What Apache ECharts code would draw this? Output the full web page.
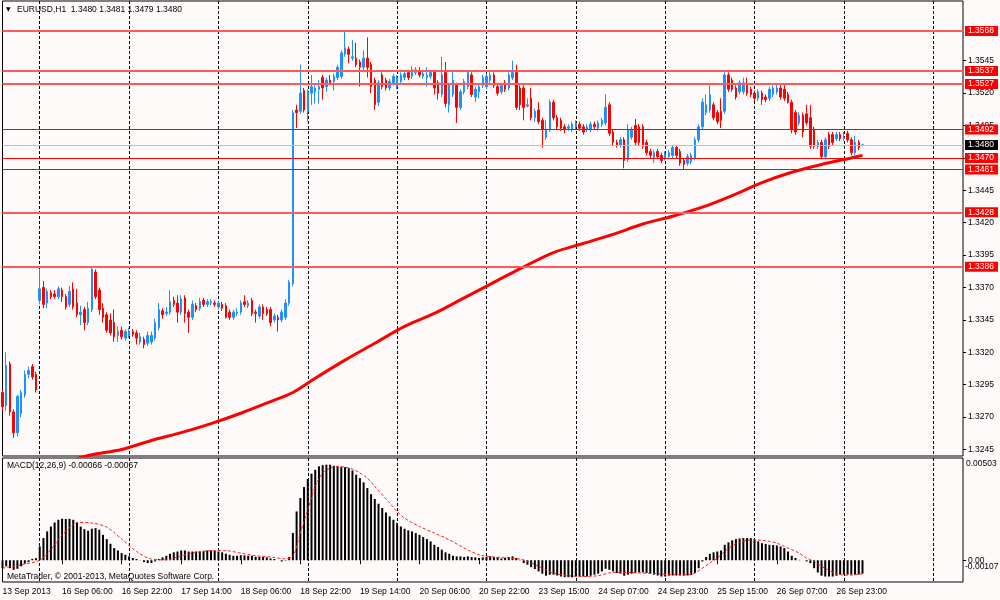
<!DOCTYPE html>
<html><head><meta charset="utf-8">
<script src="https://cdn.jsdelivr.net/npm/echarts@6/dist/echarts.min.js"></script>
<style>html,body{margin:0;padding:0;background:#fffafa}#c{width:1000px;height:600px}</style>
</head><body><div id="c"></div><script>
// ---------- DATA ----------
const xTickLabels = ['13 Sep 2013','16 Sep 06:00','16 Sep 22:00','17 Sep 14:00','18 Sep 06:00','18 Sep 22:00','19 Sep 14:00','20 Sep 06:00','20 Sep 22:00','23 Sep 15:00','24 Sep 07:00','24 Sep 23:00','25 Sep 15:00','26 Sep 07:00','26 Sep 23:00'];
const slotCount = 259;
const categories = Array.from({length: slotCount}, (_, i) => String(i));

const open = [1.3289,1.3279,1.3311,1.3274,1.3258,1.3273,1.3287,1.3303,1.3309,1.3303,
1.3360,1.3370,1.3358,1.3366,1.3365,1.3363,1.3368,1.3363,1.3357,1.3369,
1.3358,1.3349,1.3353,1.3343,1.3353,1.3382,1.3368,1.3354,1.3349,1.3345,
1.3343,1.3333,1.3337,1.3331,1.3333,1.3336,1.3335,1.3328,1.3330,1.3327,
1.3328,1.3331,1.3339,1.3352,1.3350,1.3351,1.3360,1.3358,1.3351,1.3362,
1.3351,1.3347,1.3356,1.3354,1.3360,1.3357,1.3358,1.3358,1.3355,1.3357,
1.3356,1.3351,1.3347,1.3350,1.3351,1.3359,1.3356,1.3360,1.3351,1.3348,
1.3355,1.3353,1.3353,1.3345,1.3347,1.3345,1.3347,1.3358,1.3373,1.3507,
1.3506,1.3522,1.3506,1.3520,1.3521,1.3523,1.3532,1.3525,1.3530,1.3529,
1.3532,1.3533,1.3550,1.3554,1.3547,1.3547,1.3544,1.3540,1.3547,1.3542,
1.3530,1.3513,1.3534,1.3530,1.3524,1.3528,1.3525,1.3529,1.3532,1.3536,
1.3533,1.3536,1.3537,1.3533,1.3532,1.3533,1.3536,1.3528,1.3519,1.3536,
1.3511,1.3519,1.3526,1.3509,1.3521,1.3525,1.3534,1.3517,1.3521,1.3526,
1.3525,1.3530,1.3534,1.3525,1.3521,1.3528,1.3524,1.3532,1.3536,1.3524,
1.3524,1.3510,1.3516,1.3501,1.3507,1.3499,1.3486,1.3492,1.3513,1.3501,
1.3499,1.3494,1.3493,1.3492,1.3494,1.3496,1.3494,1.3492,1.3492,1.3496,
1.3493,1.3496,1.3497,1.3511,1.3490,1.3482,1.3480,1.3484,1.3469,1.3486,
1.3495,1.3494,1.3494,1.3482,1.3475,1.3470,1.3475,1.3472,1.3470,1.3471,
1.3472,1.3478,1.3475,1.3468,1.3466,1.3467,1.3470,1.3484,1.3494,1.3505,
1.3507,1.3511,1.3505,1.3506,1.3506,1.3534,1.3530,1.3524,1.3521,1.3521,
1.3526,1.3523,1.3520,1.3516,1.3520,1.3517,1.3516,1.3519,1.3521,1.3524,
1.3523,1.3519,1.3513,1.3505,1.3497,1.3503,1.3504,1.3501,1.3492,1.3479,
1.3482,1.3471,1.3488,1.3488,1.3485,1.3488,1.3485,1.3489,1.3484,1.3474,
1.3482,1.3480];
const close = [1.3278,1.3310,1.3274,1.3258,1.3286,1.3289,1.3303,1.3306,1.3301,1.3291,
1.3369,1.3357,1.3367,1.3363,1.3363,1.3369,1.3363,1.3355,1.3367,1.3355,
1.3349,1.3351,1.3343,1.3354,1.3384,1.3363,1.3353,1.3347,1.3337,1.3335,
1.3332,1.3336,1.3332,1.3336,1.3336,1.3334,1.3331,1.3332,1.3326,1.3333,
1.3333,1.3343,1.3353,1.3349,1.3351,1.3359,1.3357,1.3351,1.3361,1.3350,
1.3347,1.3357,1.3353,1.3359,1.3357,1.3359,1.3359,1.3357,1.3358,1.3354,
1.3347,1.3347,1.3351,1.3351,1.3358,1.3357,1.3358,1.3350,1.3350,1.3355,
1.3350,1.3350,1.3343,1.3348,1.3345,1.3351,1.3358,1.3374,1.3505,1.3505,
1.3520,1.3507,1.3521,1.3525,1.3524,1.3525,1.3524,1.3530,1.3528,1.3533,
1.3540,1.3551,1.3555,1.3550,1.3548,1.3542,1.3540,1.3547,1.3540,1.3525,
1.3511,1.3528,1.3525,1.3524,1.3529,1.3533,1.3532,1.3534,1.3535,1.3532,
1.3538,1.3538,1.3534,1.3535,1.3534,1.3536,1.3524,1.3520,1.3534,1.3512,
1.3526,1.3530,1.3509,1.3521,1.3529,1.3536,1.3519,1.3523,1.3525,1.3532,
1.3533,1.3534,1.3526,1.3520,1.3526,1.3523,1.3534,1.3536,1.3509,1.3511,
1.3509,1.3511,1.3501,1.3506,1.3498,1.3492,1.3492,1.3513,1.3501,1.3494,
1.3493,1.3492,1.3494,1.3496,1.3497,1.3493,1.3490,1.3494,1.3496,1.3494,
1.3497,1.3499,1.3509,1.3489,1.3482,1.3480,1.3484,1.3468,1.3492,1.3492,
1.3482,1.3482,1.3479,1.3474,1.3472,1.3474,1.3471,1.3468,1.3473,1.3474,
1.3478,1.3472,1.3466,1.3465,1.3471,1.3472,1.3484,1.3494,1.3513,1.3511,
1.3519,1.3501,1.3498,1.3499,1.3534,1.3523,1.3523,1.3517,1.3528,1.3528,
1.3520,1.3519,1.3516,1.3521,1.3515,1.3515,1.3523,1.3524,1.3524,1.3517,
1.3516,1.3513,1.3492,1.3490,1.3503,1.3490,1.3497,1.3479,1.3479,1.3482,
1.3471,1.3484,1.3479,1.3482,1.3488,1.3485,1.3486,1.3484,1.3474,1.3482,
1.3478,1.3480];
const high = [1.3291,1.3320,1.3313,1.3276,1.3287,1.3291,1.3306,1.3309,1.3311,1.3305,
1.3384,1.3375,1.3369,1.3368,1.3368,1.3371,1.3370,1.3365,1.3371,1.3374,
1.3369,1.3356,1.3355,1.3359,1.3385,1.3384,1.3370,1.3358,1.3351,1.3350,
1.3353,1.3340,1.3340,1.3338,1.3339,1.3338,1.3337,1.3335,1.3332,1.3336,
1.3336,1.3346,1.3358,1.3354,1.3355,1.3368,1.3363,1.3364,1.3364,1.3364,
1.3353,1.3360,1.3358,1.3362,1.3362,1.3361,1.3361,1.3360,1.3360,1.3359,
1.3358,1.3353,1.3353,1.3354,1.3360,1.3364,1.3360,1.3362,1.3353,1.3357,
1.3357,1.3355,1.3355,1.3350,1.3349,1.3353,1.3361,1.3376,1.3507,1.3511,
1.3542,1.3524,1.3523,1.3534,1.3526,1.3530,1.3534,1.3532,1.3534,1.3535,
1.3542,1.3553,1.3568,1.3556,1.3561,1.3559,1.3546,1.3553,1.3563,1.3544,
1.3532,1.3530,1.3536,1.3532,1.3531,1.3535,1.3534,1.3536,1.3538,1.3538,
1.3541,1.3540,1.3540,1.3537,1.3540,1.3538,1.3538,1.3530,1.3548,1.3544,
1.3528,1.3538,1.3528,1.3523,1.3531,1.3537,1.3536,1.3525,1.3527,1.3534,
1.3535,1.3536,1.3536,1.3527,1.3528,1.3530,1.3536,1.3545,1.3542,1.3526,
1.3526,1.3516,1.3524,1.3508,1.3513,1.3501,1.3499,1.3515,1.3515,1.3503,
1.3501,1.3496,1.3496,1.3498,1.3499,1.3498,1.3496,1.3496,1.3498,1.3498,
1.3499,1.3501,1.3519,1.3513,1.3492,1.3484,1.3486,1.3486,1.3496,1.3494,
1.3500,1.3496,1.3496,1.3484,1.3477,1.3476,1.3477,1.3474,1.3475,1.3476,
1.3480,1.3480,1.3477,1.3470,1.3473,1.3474,1.3486,1.3496,1.3516,1.3519,
1.3526,1.3513,1.3507,1.3516,1.3536,1.3536,1.3532,1.3526,1.3530,1.3532,
1.3532,1.3525,1.3522,1.3523,1.3522,1.3519,1.3525,1.3526,1.3527,1.3526,
1.3526,1.3521,1.3515,1.3507,1.3505,1.3505,1.3511,1.3511,1.3494,1.3484,
1.3484,1.3486,1.3490,1.3490,1.3490,1.3490,1.3490,1.3491,1.3486,1.3487,
1.3484,1.3481];
const low = [1.3275,1.3275,1.3271,1.3254,1.3255,1.3270,1.3285,1.3300,1.3299,1.3289,
1.3357,1.3354,1.3354,1.3361,1.3361,1.3361,1.3359,1.3353,1.3355,1.3353,
1.3347,1.3341,1.3337,1.3341,1.3351,1.3361,1.3349,1.3343,1.3335,1.3333,
1.3328,1.3328,1.3330,1.3329,1.3331,1.3332,1.3326,1.3326,1.3323,1.3325,
1.3326,1.3329,1.3337,1.3346,1.3348,1.3349,1.3355,1.3343,1.3349,1.3343,
1.3335,1.3345,1.3351,1.3352,1.3355,1.3355,1.3356,1.3355,1.3353,1.3352,
1.3346,1.3345,1.3345,1.3348,1.3349,1.3355,1.3354,1.3348,1.3343,1.3346,
1.3345,1.3348,1.3340,1.3343,1.3336,1.3343,1.3345,1.3356,1.3371,1.3493,
1.3504,1.3505,1.3498,1.3511,1.3512,1.3512,1.3515,1.3521,1.3526,1.3522,
1.3530,1.3531,1.3548,1.3543,1.3545,1.3540,1.3525,1.3538,1.3532,1.3520,
1.3507,1.3510,1.3523,1.3522,1.3522,1.3526,1.3523,1.3527,1.3530,1.3530,
1.3531,1.3534,1.3532,1.3531,1.3525,1.3531,1.3519,1.3515,1.3517,1.3509,
1.3505,1.3517,1.3497,1.3507,1.3519,1.3523,1.3517,1.3513,1.3516,1.3524,
1.3523,1.3528,1.3524,1.3518,1.3519,1.3521,1.3522,1.3530,1.3507,1.3507,
1.3499,1.3509,1.3499,1.3498,1.3496,1.3478,1.3484,1.3490,1.3499,1.3492,
1.3491,1.3489,1.3491,1.3490,1.3492,1.3491,1.3488,1.3490,1.3490,1.3492,
1.3491,1.3494,1.3495,1.3487,1.3480,1.3478,1.3478,1.3462,1.3467,1.3484,
1.3480,1.3480,1.3477,1.3472,1.3470,1.3466,1.3469,1.3466,1.3468,1.3469,
1.3470,1.3470,1.3464,1.3461,1.3464,1.3465,1.3468,1.3482,1.3492,1.3503,
1.3505,1.3499,1.3496,1.3493,1.3504,1.3521,1.3521,1.3515,1.3519,1.3519,
1.3518,1.3517,1.3514,1.3514,1.3511,1.3513,1.3514,1.3517,1.3519,1.3515,
1.3514,1.3512,1.3489,1.3488,1.3495,1.3486,1.3495,1.3477,1.3477,1.3477,
1.3469,1.3469,1.3477,1.3480,1.3483,1.3483,1.3483,1.3482,1.3472,1.3472,
1.3476,1.3479];

// 200-period moving average (sampled bars)
const maIdx = [20,24,32,40,48,56,64,72,78,84,92,100,108,116,124,132,140,148,156,164,172,180,188,196,204,212,220,228,231];
const maVal = [1.3238,1.3241,1.3245,1.3252,1.3258,1.3265,1.3273,1.3282,1.3289,1.3300,1.3314,1.3327,1.3340,1.3350,1.3362,1.3374,1.3386,1.3397,1.3404,1.3411,1.3419,1.3425,1.3432,1.3441,1.3451,1.3459,1.3465,1.3470,1.3472];

// MACD main (histogram) per bar
const macd = [-0.00039,-0.00030,-0.00039,-0.00047,-0.00042,-0.00030,-0.00017,-0.00009,0.00007,0.00010,
0.00068,0.00109,0.00142,0.00166,0.00186,0.00199,0.00204,0.00203,0.00204,0.00199,
0.00183,0.00166,0.00153,0.00145,0.00155,0.00158,0.00150,0.00125,0.00104,0.00081,
0.00060,0.00048,0.00035,0.00027,0.00019,0.00011,0.00006,0.00001,-0.00009,-0.00014,
-0.00014,-0.00006,0.00006,0.00014,0.00022,0.00032,0.00039,0.00043,0.00048,0.00048,
0.00043,0.00043,0.00043,0.00043,0.00045,0.00048,0.00048,0.00047,0.00043,0.00039,
0.00032,0.00027,0.00022,0.00022,0.00025,0.00024,0.00022,0.00022,0.00017,0.00016,
0.00016,0.00014,0.00009,0.00006,0.00000,-0.00006,-0.00002,0.00016,0.00134,0.00240,
0.00306,0.00360,0.00400,0.00426,0.00445,0.00462,0.00468,0.00470,0.00470,0.00465,
0.00462,0.00458,0.00458,0.00453,0.00442,0.00421,0.00404,0.00383,0.00355,0.00325,
0.00301,0.00278,0.00257,0.00235,0.00216,0.00199,0.00183,0.00166,0.00155,0.00147,
0.00142,0.00134,0.00125,0.00114,0.00104,0.00093,0.00076,0.00065,0.00052,0.00039,
0.00032,0.00022,0.00019,0.00019,0.00016,0.00019,0.00016,0.00014,0.00011,0.00014,
0.00017,0.00019,0.00016,0.00016,0.00009,0.00012,0.00016,0.00019,0.00011,0.00002,
-0.00014,-0.00022,-0.00034,-0.00043,-0.00055,-0.00066,-0.00076,-0.00071,-0.00071,-0.00075,
-0.00080,-0.00083,-0.00083,-0.00084,-0.00080,-0.00080,-0.00080,-0.00080,-0.00076,-0.00071,
-0.00066,-0.00055,-0.00042,-0.00047,-0.00055,-0.00063,-0.00066,-0.00076,-0.00071,-0.00066,
-0.00063,-0.00060,-0.00060,-0.00063,-0.00066,-0.00071,-0.00075,-0.00080,-0.00080,-0.00076,
-0.00075,-0.00075,-0.00075,-0.00076,-0.00075,-0.00073,-0.00063,-0.00039,-0.00006,0.00016,
0.00032,0.00039,0.00043,0.00048,0.00076,0.00088,0.00098,0.00104,0.00107,0.00109,
0.00109,0.00109,0.00101,0.00093,0.00084,0.00080,0.00076,0.00075,0.00073,0.00068,
0.00060,0.00043,0.00022,0.00011,0.00002,0.00000,-0.00006,-0.00014,-0.00039,-0.00060,
-0.00076,-0.00080,-0.00080,-0.00080,-0.00076,-0.00071,-0.00070,-0.00070,-0.00071,-0.00071,
-0.00070,-0.00066];

// MACD signal line (sampled bars)
const sigIdx = [0,5,10,13,16,19,20,24,28,32,36,40,44,48,52,56,60,64,68,72,76,78,80,82,84,86,88,90,92,94,96,98,100,104,106,108,112,116,120,124,128,132,136,140,144,148,152,156,160,164,168,172,176,180,184,186,188,190,192,194,196,198,200,202,204,206,208,210,212,214,216,218,220,222,224,226,228,231];
const sigVal = [-0.00039,-0.00022,0.00000,0.00052,0.00125,0.00175,0.00186,0.00183,0.00163,0.00104,0.00043,0.00006,0.00002,0.00022,0.00039,0.00047,0.00047,0.00035,0.00022,0.00016,0.00007,0.00019,0.00134,0.00248,0.00363,0.00429,0.00453,0.00462,0.00458,0.00449,0.00429,0.00404,0.00363,0.00281,0.00240,0.00207,0.00166,0.00134,0.00101,0.00060,0.00027,0.00016,0.00011,0.00002,-0.00030,-0.00063,-0.00076,-0.00080,-0.00076,-0.00060,-0.00060,-0.00063,-0.00066,-0.00071,-0.00071,-0.00063,-0.00039,-0.00014,0.00011,0.00043,0.00071,0.00088,0.00098,0.00101,0.00098,0.00093,0.00084,0.00068,0.00052,0.00035,0.00011,-0.00006,-0.00030,-0.00050,-0.00066,-0.00073,-0.00073,-0.00067];

// Price levels and axis ticks
const majorLevels = [1.3568, 1.3537, 1.3527, 1.3428, 1.3386];
const minorLevels = [1.3492, 1.3470, 1.3461];
const currentPrice = 1.3480;
const priceTicks = [1.3245,1.3270,1.3295,1.3320,1.3345,1.3370,1.3395,1.3420,1.3445,1.3470,1.3495,1.3520,1.3545];
const priceMin = 1.3240, priceMax = 1.35911;
const macdMin = -0.00107, macdMax = 0.00503;
const titleText = 'EURUSD,H1  1.3480 1.3481 1.3479 1.3480';
const macdText = 'MACD(12,26,9) -0.00066 -0.00067';
const copyText = 'MetaTrader, \u00A9 2001-2013, MetaQuotes Software Corp.';

// ---------- CHART ----------
const FONT = '"Liberation Sans", Arial, sans-serif';
const FS = 8.5;
const dayLine = (i) => (i - 10) % 24 === 0;
const labelTick = (i) => i % 16 === 0 && i / 16 < xTickLabels.length;
const candleData = open.map((o, i) => [o, close[i], low[i], high[i]]);

function levelSeries(values, lineStyle, bg, name) {
  const lbl = { show: true, position: 'end', distance: 2, formatter: (p) => Number(p.value).toFixed(4),
    backgroundColor: bg, color: '#fff', padding: [1, 4, 0, 3], fontSize: FS, fontFamily: FONT };
  return {
    type: 'line', name: name, xAxisIndex: 0, yAxisIndex: 0, color: lineStyle.color,
    data: values.map(v => [0, v]), showSymbol: false, symbolSize: 0,
    lineStyle: { opacity: 0 }, silent: true, z: 2,
    markLine: {
      silent: true, symbol: ['none', 'none'], animation: false, precision: 4,
      lineStyle: lineStyle, label: lbl,
      data: values.map(v => ({ yAxis: v, lineStyle: lineStyle, label: lbl }))
    }
  };
}

const splitDash = { show: true, interval: (i) => dayLine(i), lineStyle: { color: '#000', width: 1, type: [3, 2] } };
const gridBase = { left: 2.5, width: 960.5, show: true, borderColor: '#000', borderWidth: 1, backgroundColor: 'transparent', containLabel: false, outerBoundsMode: 'none' };

const chart = echarts.init(document.getElementById('c'), null, { renderer: 'canvas' });
chart.setOption({
  animation: false,
  backgroundColor: '#fffafa',
  textStyle: { fontFamily: FONT },
  grid: [
    Object.assign({ top: 1, height: 455 }, gridBase),
    Object.assign({ top: 458, height: 124 }, gridBase)
  ],
  xAxis: [
    { type: 'category', gridIndex: 0, data: categories, boundaryGap: false,
      axisLine: { show: false }, axisTick: { show: false }, axisLabel: { show: false }, splitLine: splitDash },
    { type: 'category', gridIndex: 1, data: categories, boundaryGap: false,
      axisLine: { show: false },
      axisTick: { show: true, interval: (i) => labelTick(i), length: 4, lineStyle: { color: '#000' } },
      axisLabel: { show: true, interval: (i) => labelTick(i), align: 'left', margin: 5,
        formatter: (val) => xTickLabels[Number(val) / 16], color: '#000', fontSize: FS, fontFamily: FONT },
      splitLine: splitDash }
  ],
  yAxis: [
    { type: 'value', gridIndex: 0, position: 'right', min: priceMin, max: priceMax,
      splitLine: { show: false }, axisLine: { show: false },
      axisTick: { show: true, length: 3, customValues: priceTicks, lineStyle: { color: '#000' } },
      axisLabel: { show: true, customValues: priceTicks, margin: 5, formatter: (v) => v.toFixed(4),
        color: '#000', fontSize: FS, fontFamily: FONT } },
    { type: 'value', gridIndex: 1, position: 'right', min: macdMin, max: macdMax,
      splitLine: { show: false }, axisLine: { show: false },
      axisTick: { show: true, length: 3, customValues: [0], lineStyle: { color: '#000' } },
      axisLabel: { show: true, customValues: [0], margin: 5, formatter: () => '0.00',
        color: '#000', fontSize: FS, fontFamily: FONT } }
  ],
  series: [
    levelSeries([currentPrice], { color: '#c0c0c0', width: 1, type: 'solid' }, '#000000', 'current'),
    levelSeries(majorLevels, { color: '#ff5a5a', width: 2, type: 'solid' }, '#ff0000', 'major'),
    levelSeries(minorLevels, { color: '#ff0000', width: 1, type: 'solid' }, '#ff0000', 'minor'),
    { type: 'candlestick', xAxisIndex: 0, yAxisIndex: 0, data: candleData, barWidth: 2, z: 3,
      itemStyle: { color: '#1e90ff', color0: '#ff0000', borderColor: '#1e90ff', borderColor0: '#ff0000', borderColorDoji: '#1e90ff', borderWidth: 1 } },
    { type: 'line', xAxisIndex: 0, yAxisIndex: 0, data: maIdx.map((x, k) => [x, maVal[k]]),
      showSymbol: false, smooth: 0.3, lineStyle: { color: '#ff0000', width: 3 }, z: 4 },
    { type: 'bar', xAxisIndex: 1, yAxisIndex: 1, data: macd, barWidth: 2,
      itemStyle: { color: '#000' } },
    { type: 'line', xAxisIndex: 1, yAxisIndex: 1, data: sigIdx.map((x, k) => [x, sigVal[k]]),
      showSymbol: false, smooth: 0.3, lineStyle: { color: '#ff2020', width: 1, type: [3, 2] }, z: 4 }
  ],
  graphic: [
    { type: 'text', left: 6, top: 6, style: { text: '\u25BC', fontSize: 6, fill: '#000', fontFamily: '"DejaVu Sans"' } },
    { type: 'text', left: 17, top: 5, style: { text: titleText, fontSize: FS, fill: '#000', fontFamily: FONT } },
    { type: 'text', left: 7, top: 461, style: { text: macdText, fontSize: FS, fill: '#000', fontFamily: FONT } },
    { type: 'text', left: 7, top: 572, style: { text: copyText, fontSize: FS, fill: '#000', fontFamily: FONT } },
    { type: 'text', left: 966, top: 459, style: { text: macdMax.toFixed(5), fontSize: FS, fill: '#000', fontFamily: FONT } },
    { type: 'text', left: 965, top: 562, style: { text: macdMin.toFixed(5), fontSize: FS, fill: '#000', fontFamily: FONT } }
  ]
});
</script></body></html>
